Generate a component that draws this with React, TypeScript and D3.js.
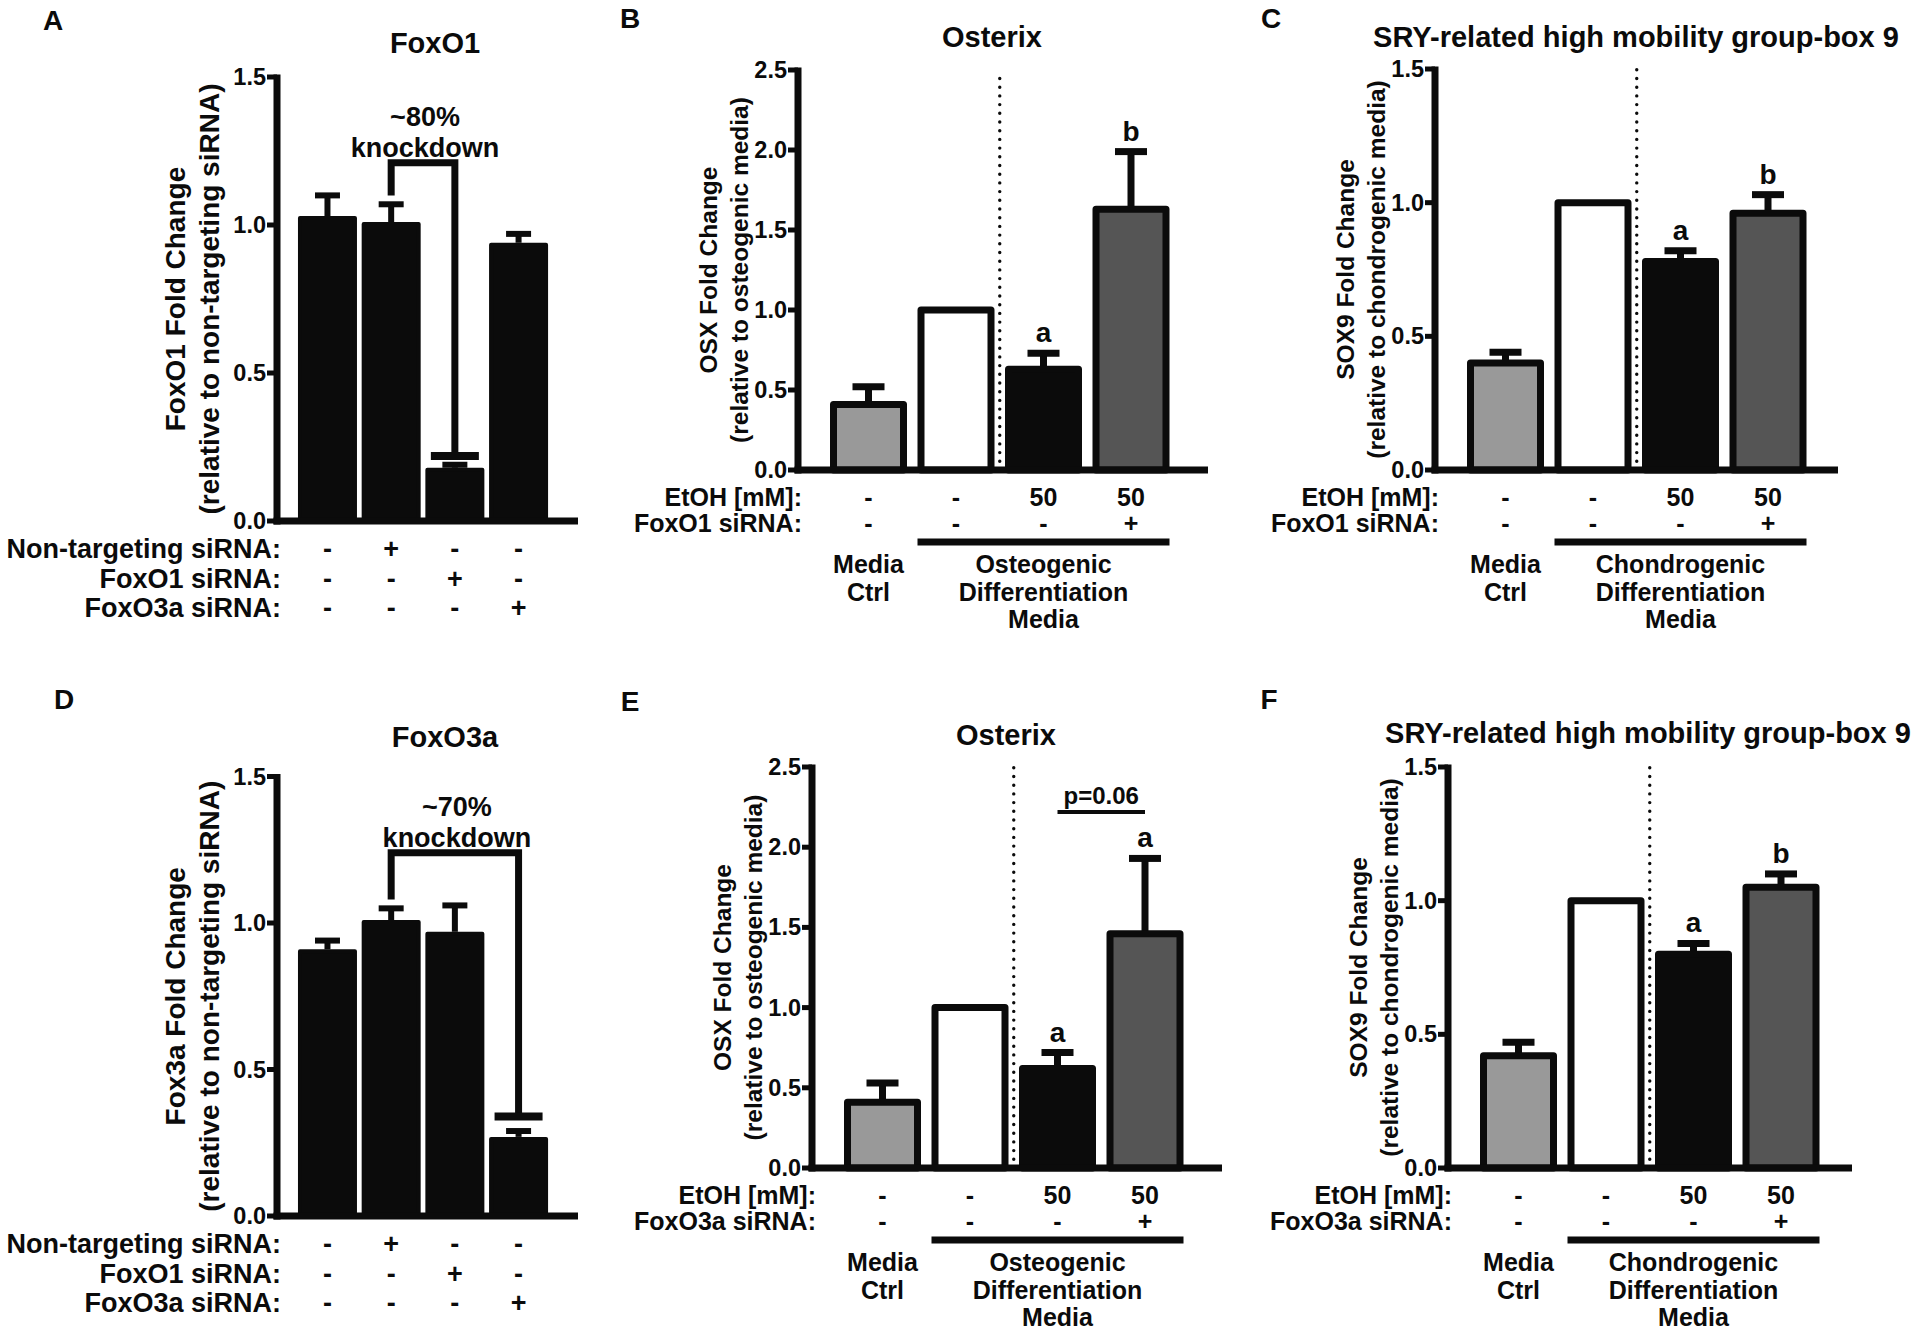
import React from "react";
import * as d3 from "d3";

const FONT = "'Liberation Sans', Arial, Helvetica, sans-serif";
const INK = "#0b0b0b";

// knockdown panels (A, D)
const knockdownGroups = ["none", "nonTargeting", "foxo1", "foxo3a"];
const knockdownRowLabels = ["Non-targeting siRNA:", "FoxO1 siRNA:", "FoxO3a siRNA:"];
const knockdownMarks = [
  ["-", "+", "-", "-"],
  ["-", "-", "+", "-"],
  ["-", "-", "-", "+"],
];
const foxo1Mean = [1.03, 1.01, 0.18, 0.94];
const foxo1Sem = [0.07, 0.06, 0.01, 0.03];
const foxo1Bracket = [1.21, 1.1, 0.22]; // top, left leg end, right leg end
const foxo3aMean = [0.91, 1.01, 0.97, 0.27];
const foxo3aSem = [0.03, 0.04, 0.09, 0.02];
const foxo3aBracket = [1.24, 1.08, 0.34];

// differentiation panels (B, C, E, F)
const mediaGroups = ["mediaCtrl", "diffMedia", "etoh", "etohSirna"];
const etohDoses = ["-", "-", "50", "50"];
const sirnaMarks = ["-", "-", "-", "+"];
const mediaFills = ["#999999", "#ffffff", "#0b0b0b", "#555555"];

const osxFoxo1Mean = [0.41, 1.0, 0.63, 1.63];
const osxFoxo1Sem = [0.11, 0, 0.1, 0.36];
const osxFoxo1Letters = ["", "", "a", "b"];

const sox9Foxo1Mean = [0.4, 1.0, 0.78, 0.96];
const sox9Foxo1Sem = [0.04, 0, 0.04, 0.07];
const sox9Foxo1Letters = ["", "", "a", "b"];

const osxFoxo3aMean = [0.41, 1.0, 0.62, 1.46];
const osxFoxo3aSem = [0.12, 0, 0.1, 0.47];
const osxFoxo3aLetters = ["", "", "a", "a"];
const osxFoxo3aPLine = 2.22;

const sox9Foxo3aMean = [0.42, 1.0, 0.8, 1.05];
const sox9Foxo3aSem = [0.05, 0, 0.04, 0.05];
const sox9Foxo3aLetters = ["", "", "a", "b"];

const ticksTo15 = [0, 0.5, 1, 1.5];
const ticksTo25 = [0, 0.5, 1, 1.5, 2, 2.5];

const fmt = d3.format(".1f");

function YAxis({ axisX, base, y, ticks, axisEnd }) {
  const top = y(ticks[ticks.length - 1]);
  return (
    <g>
      {ticks.map((t) => (
        <g key={t}>
          <line x1={axisX - 10} x2={axisX} y1={y(t)} y2={y(t)} stroke={INK} strokeWidth={5} />
          <text
            x={axisX - 11}
            y={y(t)}
            textAnchor="end"
            dominantBaseline="central"
            fontSize={23.5}
            fontWeight="bold"
          >
            {fmt(t)}
          </text>
        </g>
      ))}
      <line x1={axisX} x2={axisX} y1={top - 2.5} y2={base + 3.5} stroke={INK} strokeWidth={7} />
      <line x1={axisX - 3.5} x2={axisEnd} y1={base} y2={base} stroke={INK} strokeWidth={7} />
    </g>
  );
}

function KnockdownPanel({ letter, letterX, letterY, title, titleX, titleY, axisX, base, top, axisEnd, mean, sem, yLabel, bracket, bracketTo, pct }) {
  const y = d3.scaleLinear().domain([0, 1.5]).range([base, top]);
  const x = d3
    .scaleBand()
    .domain(knockdownGroups)
    .range([axisX + 16.6, axisX + 16.6 + 63.7 * (4 - 0.1366 + 0.2)])
    .paddingInner(0.1366)
    .paddingOuter(0.1);
  const bw = x.bandwidth();
  const cx = (i) => x(knockdownGroups[i]) + bw / 2;
  const bl = cx(1);
  const br = cx(bracketTo);
  const midY = (top + base) / 2;

  return (
    <g>
      <text x={letterX} y={letterY} textAnchor="middle" dominantBaseline="central" fontSize={28} fontWeight="bold">
        {letter}
      </text>
      <text x={titleX} y={titleY} textAnchor="middle" dominantBaseline="central" fontSize={29} fontWeight="bold">
        {title}
      </text>
      {yLabel.map((l, i) => (
        <text
          key={i}
          transform={`translate(${axisX - 102 + i * 34},${midY}) rotate(-90)`}
          textAnchor="middle"
          dominantBaseline="central"
          fontSize={28}
          fontWeight="bold"
        >
          {l}
        </text>
      ))}

      {mean.map((m, i) => {
        const c = cx(i);
        const ye = y(m + sem[i]);
        return (
          <g key={i}>
            <line x1={c} x2={c} y1={y(m)} y2={ye} stroke={INK} strokeWidth={6} />
            <line x1={c - 12.5} x2={c + 12.5} y1={ye} y2={ye} stroke={INK} strokeWidth={6} />
            <rect
              x={x(knockdownGroups[i])}
              y={y(m) + 2}
              width={bw}
              height={base - y(m) - 2}
              fill={INK}
              stroke={INK}
              strokeWidth={4}
              strokeLinejoin="round"
            />
          </g>
        );
      })}

      <path
        d={`M${bl},${y(bracket[1])}V${y(bracket[0])}H${br}V${y(bracket[2])}`}
        fill="none"
        stroke={INK}
        strokeWidth={7}
      />
      <line x1={br - 24} x2={br + 24} y1={y(bracket[2])} y2={y(bracket[2])} stroke={INK} strokeWidth={8} />
      <text x={(bl + br) / 2 + 2} y={y(bracket[0]) - 46} textAnchor="middle" dominantBaseline="central" fontSize={27} fontWeight="bold">
        {pct}
      </text>
      <text x={(bl + br) / 2 + 2} y={y(bracket[0]) - 15} textAnchor="middle" dominantBaseline="central" fontSize={27} fontWeight="bold">
        knockdown
      </text>

      <YAxis axisX={axisX} base={base} y={y} ticks={ticksTo15} axisEnd={axisEnd} />

      {knockdownRowLabels.map((lab, r) => {
        const ry = base + 28 + r * 29.5;
        return (
          <g key={lab} fontSize={27} fontWeight="bold">
            <text x={axisX + 4} y={ry} textAnchor="end" dominantBaseline="central">
              {lab}
            </text>
            {knockdownMarks[r].map((mk, i) => (
              <text key={i} x={cx(i)} y={ry} textAnchor="middle" dominantBaseline="central">
                {mk}
              </text>
            ))}
          </g>
        );
      })}
    </g>
  );
}

function DiffPanel({ letter, letterX, letterY, title, titleX, titleY, axisX, base, top, axisEnd, yMax, ticks, mean, sem, letters, yLabel, sirnaLabel, groupLabel, pLine }) {
  const y = d3.scaleLinear().domain([0, yMax]).range([base, top]);
  const x = d3
    .scaleBand()
    .domain(mediaGroups)
    .range([axisX + 26.75, axisX + 376.75])
    .paddingInner(0.2)
    .paddingOuter(0.1);
  const bw = x.bandwidth();
  const cx = (i) => x(mediaGroups[i]) + bw / 2;
  const divider = (x(mediaGroups[1]) + bw + x(mediaGroups[2])) / 2;
  const gl = x(mediaGroups[1]) - 3.5;
  const gr = x(mediaGroups[3]) + bw + 3.5;
  const midY = (top + base) / 2;

  return (
    <g>
      <text x={letterX} y={letterY} textAnchor="middle" dominantBaseline="central" fontSize={28} fontWeight="bold">
        {letter}
      </text>
      <text x={titleX} y={titleY} textAnchor="middle" dominantBaseline="central" fontSize={29} fontWeight="bold">
        {title}
      </text>
      {yLabel.map((l, i) => (
        <text
          key={i}
          transform={`translate(${axisX - 90 + i * 31},${midY}) rotate(-90)`}
          textAnchor="middle"
          dominantBaseline="central"
          fontSize={24.5}
          fontWeight="bold"
        >
          {l}
        </text>
      ))}

      <line
        x1={divider}
        x2={divider}
        y1={base}
        y2={top}
        stroke={INK}
        strokeWidth={3.4}
        strokeDasharray="0 8.7"
        strokeLinecap="round"
      />

      {mean.map((m, i) => {
        const c = cx(i);
        const ye = y(m + sem[i]);
        return (
          <g key={i}>
            {sem[i] > 0 && (
              <g>
                <line x1={c} x2={c} y1={y(m)} y2={ye} stroke={INK} strokeWidth={7} />
                <line x1={c - 16} x2={c + 16} y1={ye} y2={ye} stroke={INK} strokeWidth={7} />
              </g>
            )}
            <rect
              x={x(mediaGroups[i])}
              y={y(m)}
              width={bw}
              height={base - y(m)}
              fill={mediaFills[i]}
              stroke={INK}
              strokeWidth={7}
              strokeLinejoin="round"
            />
            {letters[i] && (
              <text x={c} y={ye - 11} textAnchor="middle" fontSize={28} fontWeight="bold">
                {letters[i]}
              </text>
            )}
          </g>
        );
      })}

      {pLine !== undefined && (
        <g>
          <line x1={cx(2)} x2={cx(3)} y1={y(pLine)} y2={y(pLine)} stroke={INK} strokeWidth={4} />
          <text x={(cx(2) + cx(3)) / 2} y={y(pLine) - 8} textAnchor="middle" fontSize={24} fontWeight="bold">
            p=0.06
          </text>
        </g>
      )}

      <YAxis axisX={axisX} base={base} y={y} ticks={ticks} axisEnd={axisEnd} />

      <g fontSize={25} fontWeight="bold">
        <text x={axisX + 4} y={base + 27} textAnchor="end" dominantBaseline="central">
          EtOH [mM]:
        </text>
        <text x={axisX + 4} y={base + 53} textAnchor="end" dominantBaseline="central">
          {sirnaLabel}
        </text>
        {mediaGroups.map((g, i) => (
          <g key={g}>
            <text x={cx(i)} y={base + 27} textAnchor="middle" dominantBaseline="central">
              {etohDoses[i]}
            </text>
            <text x={cx(i)} y={base + 53} textAnchor="middle" dominantBaseline="central">
              {sirnaMarks[i]}
            </text>
          </g>
        ))}
        <line x1={gl} x2={gr} y1={base + 72} y2={base + 72} stroke={INK} strokeWidth={7} />
        {["Media", "Ctrl"].map((t, k) => (
          <text key={t} x={cx(0)} y={base + 94 + k * 27.5} textAnchor="middle" dominantBaseline="central">
            {t}
          </text>
        ))}
        {groupLabel.map((t, k) => (
          <text key={t} x={(gl + gr) / 2} y={base + 94 + k * 27.5} textAnchor="middle" dominantBaseline="central">
            {t}
          </text>
        ))}
      </g>
    </g>
  );
}

export default function App() {
  return (
    <svg
      width={1920}
      height={1332}
      style={{ position: "absolute", left: 0, top: 0, background: "#fff" }}
      fontFamily={FONT}
      fill={INK}
    >
      <KnockdownPanel
        letter="A"
        letterX={53}
        letterY={20}
        title="FoxO1"
        titleX={435}
        titleY={43}
        axisX={277}
        base={521}
        top={77}
        axisEnd={578}
        mean={foxo1Mean}
        sem={foxo1Sem}
        yLabel={["FoxO1 Fold Change", "(relative to non-targeting siRNA)"]}
        bracket={foxo1Bracket}
        bracketTo={2}
        pct="~80%"
      />
      <KnockdownPanel
        letter="D"
        letterX={64}
        letterY={699}
        title="FoxO3a"
        titleX={445}
        titleY={737}
        axisX={277}
        base={1216}
        top={776.5}
        axisEnd={578}
        mean={foxo3aMean}
        sem={foxo3aSem}
        yLabel={["Fox3a Fold Change", "(relative to non-targeting siRNA)"]}
        bracket={foxo3aBracket}
        bracketTo={3}
        pct="~70%"
      />
      <DiffPanel
        letter="B"
        letterX={630}
        letterY={18}
        title="Osterix"
        titleX={992}
        titleY={37}
        axisX={798}
        base={470}
        top={70}
        axisEnd={1208}
        yMax={2.5}
        ticks={ticksTo25}
        mean={osxFoxo1Mean}
        sem={osxFoxo1Sem}
        letters={osxFoxo1Letters}
        yLabel={["OSX Fold Change", "(relative to osteogenic media)"]}
        sirnaLabel="FoxO1 siRNA:"
        groupLabel={["Osteogenic", "Differentiation", "Media"]}
      />
      <DiffPanel
        letter="C"
        letterX={1271}
        letterY={18}
        title="SRY-related high mobility group-box 9"
        titleX={1636}
        titleY={37}
        axisX={1435}
        base={470}
        top={69}
        axisEnd={1838}
        yMax={1.5}
        ticks={ticksTo15}
        mean={sox9Foxo1Mean}
        sem={sox9Foxo1Sem}
        letters={sox9Foxo1Letters}
        yLabel={["SOX9 Fold Change", "(relative to chondrogenic media)"]}
        sirnaLabel="FoxO1 siRNA:"
        groupLabel={["Chondrogenic", "Differentiation", "Media"]}
      />
      <DiffPanel
        letter="E"
        letterX={630}
        letterY={701}
        title="Osterix"
        titleX={1006}
        titleY={735}
        axisX={812}
        base={1168}
        top={767}
        axisEnd={1222}
        yMax={2.5}
        ticks={ticksTo25}
        mean={osxFoxo3aMean}
        sem={osxFoxo3aSem}
        letters={osxFoxo3aLetters}
        yLabel={["OSX Fold Change", "(relative to osteogenic media)"]}
        sirnaLabel="FoxO3a siRNA:"
        groupLabel={["Osteogenic", "Differentiation", "Media"]}
        pLine={osxFoxo3aPLine}
      />
      <DiffPanel
        letter="F"
        letterX={1269}
        letterY={699}
        title="SRY-related high mobility group-box 9"
        titleX={1648}
        titleY={733}
        axisX={1448}
        base={1168}
        top={767}
        axisEnd={1852}
        yMax={1.5}
        ticks={ticksTo15}
        mean={sox9Foxo3aMean}
        sem={sox9Foxo3aSem}
        letters={sox9Foxo3aLetters}
        yLabel={["SOX9 Fold Change", "(relative to chondrogenic media)"]}
        sirnaLabel="FoxO3a siRNA:"
        groupLabel={["Chondrogenic", "Differentiation", "Media"]}
      />
    </svg>
  );
}
